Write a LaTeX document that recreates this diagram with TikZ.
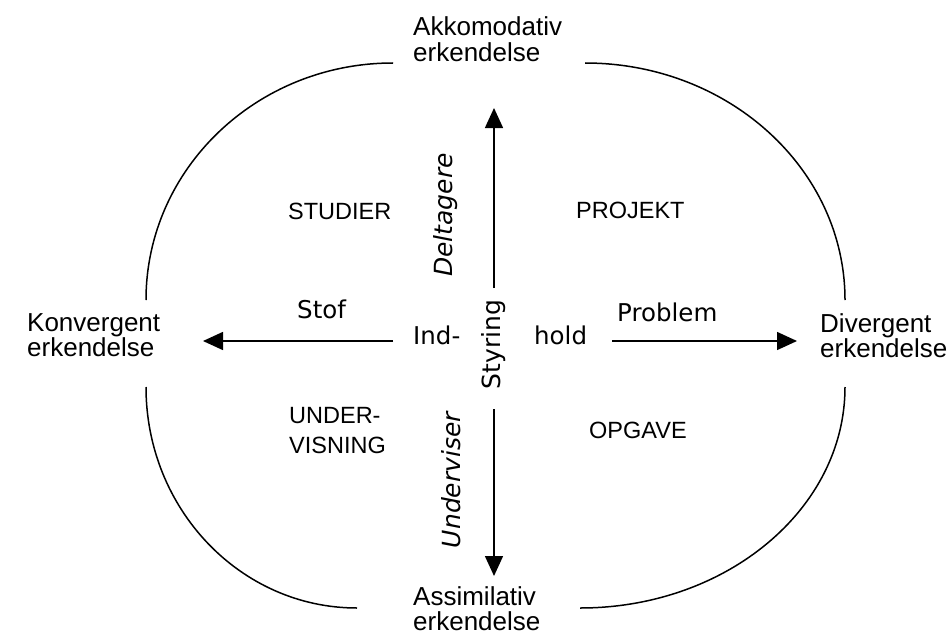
\documentclass[tikz,border=0pt]{standalone}
\usepackage{fontspec}
\setmainfont{Liberation Sans}
\newfontfamily\humfont{DejaVu Sans}
\usetikzlibrary{arrows.meta}
\begin{document}
\begin{tikzpicture}[x=1pt,y=1pt,
  pole/.style={font=\fontsize{26}{26}\selectfont, anchor=base west, inner sep=0pt},
  quad/.style={font=\fontsize{23.5}{23.5}\selectfont, anchor=base west, inner sep=0pt},
  axislabel/.style={font=\humfont\fontsize{24.5}{24.5}\selectfont, anchor=base west, inner sep=0pt},
  vlabel/.style={font=\humfont\fontsize{25}{25}\selectfont, anchor=base, rotate=90, inner sep=0pt},
  vlabelit/.style={vlabel, font=\humfont\itshape\fontsize{25}{25}\selectfont},
  rim/.style={line width=1.5pt},
  flow/.style={line width=1.5pt, -{Triangle[length=20pt,width=18pt]}}
]
\useasboundingbox (0,0) rectangle (950,-634);

% the four poles
\node[pole] (akk1) at (413,-36) {Akkomodativ};
\node[pole] (akk2) at (413,-62) {erkendelse};
\node[pole] (kon1) at (27,-331) {Konvergent};
\node[pole] (kon2) at (27,-356) {erkendelse};
\node[pole] (div1) at (820,-332) {Divergent};
\node[pole] (div2) at (820,-357) {erkendelse};
\node[pole] (ass1) at (413,-605) {Assimilativ};
\node[pole] (ass2) at (413,-630) {erkendelse};

% quadrant names
\node[quad] (stu) at (288,-219) {STUDIER};
\node[quad] (pro) at (576,-218) {PROJEKT};
\node[quad] (und1) at (289,-423) {UNDER-};
\node[quad] (und2) at (289,-453.5) {VISNING};
\node[quad] (opg) at (589,-438) {OPGAVE};

% axis labels
\node[axislabel] (stof) at (297,-318) {Stof};
\node[axislabel] (prob) at (617,-321) {Problem};
\node[axislabel] (ind) at (413,-344) {Ind-};
\node[axislabel] (hold) at (534,-344) {hold};
\node[vlabel] (sty) at (500,-344.5) {Styring};
\node[vlabelit] (del) at (452,-215) {Deltagere};
\node[vlabelit] (uv) at (460,-480) {Underviser};

% arrow end points
\coordinate (upS) at (494,-288);
\coordinate (upE) at (494,-108);
\coordinate (dnS) at (494,-409);
\coordinate (dnE) at (494,-576);
\coordinate (lfS) at (393,-341);
\coordinate (lfE) at (203,-341);
\coordinate (rtS) at (612,-341);
\coordinate (rtE) at (797,-341);

\draw[flow] (upS) -- (upE);
\draw[flow] (dnS) -- (dnE);
\draw[flow] (lfS) -- (lfE);
\draw[flow] (rtS) -- (rtE);

% the surrounding rim, in four quarters
\draw[rim] (146,-300) arc[start angle=180, end angle=90, x radius=247, y radius=237];
\draw[rim] (585,-63) arc[start angle=90, end angle=0, x radius=260, y radius=237];
\draw[rim] (845,-387) arc[start angle=0, end angle=-90, x radius=265, y radius=221];
\draw[rim] (357,-608) arc[start angle=270, end angle=180, x radius=211, y radius=221];
\end{tikzpicture}
\end{document}
